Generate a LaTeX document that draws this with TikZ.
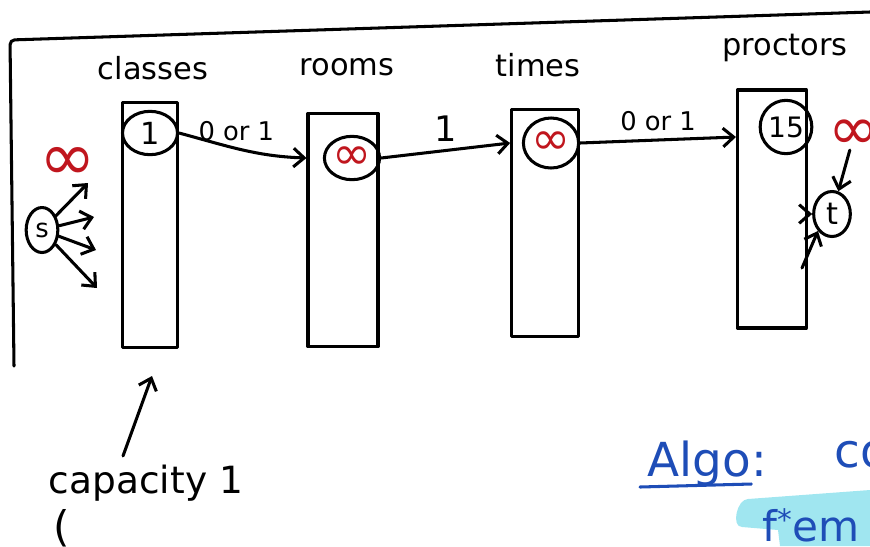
\documentclass[tikz,border=0pt]{standalone}
\usepackage{fontspec}
\setmainfont{DejaVu Sans}
\usepackage{xcolor}
\usepackage{tikz}
\usetikzlibrary{arrows.meta,shapes,calc}
\definecolor{inkred}{HTML}{C0161E}
\definecolor{inkblue}{HTML}{1E4DB7}
\definecolor{hilite}{HTML}{A0E6F0}

\begin{document}
\begin{tikzpicture}[x=0.03cm, y=-0.03cm,
    every node/.style={font=\fontsize{26}{28}\selectfont},
    ink/.style={line width=2.6pt, line cap=round, line join=round},
    col/.style={ink, draw, rectangle, inner sep=0pt},
    cnt/.style={ink, draw, ellipse, inner sep=0pt},
    arr/.style={ink, -{Straight Barb[length=3.2mm,width=5.6mm]}},
    lbl/.style={font=\fontsize{22}{24}\selectfont},
    inf/.style={text=inkred, font=\fontsize{40}{40}\selectfont},
    note/.style={text=inkblue, font=\fontsize{40}{42}\selectfont, inner sep=2pt}
]
  \useasboundingbox (0,0) rectangle (870,546);
  \clip (0,0) rectangle (870,546);

  \draw[ink, rounded corners=4pt] (14,366) -- (10,40) -- (870,12);

  \node[col, minimum width=1.65cm, minimum height=7.35cm] (classes)  at (150,225) {};
  \node[col, minimum width=2.1cm,  minimum height=7.0cm]  (rooms)    at (343,230) {};
  \node[col, minimum width=2.0cm,  minimum height=6.8cm]  (times)    at (545,223) {};
  \node[col, minimum width=2.07cm, minimum height=7.14cm] (proctors) at (772,209) {};

  \node at (153,68) {classes};
  \node at (347,67) {rooms};
  \node at (538,65) {times};
  \node at (785,48) {proctors};

  \node[cnt, minimum width=1.65cm, minimum height=1.3cm] (c1) at (150,133) {1};
  \node[cnt, minimum width=1.35cm, minimum height=1.3cm, inf] (r1) at (352,158) {∞};
  \node[cnt, minimum width=1.6cm,  minimum height=1.5cm, inf] (t1) at (551,143) {∞};
  \node[cnt, minimum width=1.55cm, minimum height=1.6cm, font=\fontsize{24}{26}\selectfont] (p1) at (786,127) {15};

  \node[cnt, minimum width=0.95cm, minimum height=1.35cm, font=\fontsize{22}{24}\selectfont] (s) at (42,230) {s};
  \node[cnt, minimum width=1.1cm,  minimum height=1.35cm] (t) at (832,214) {t};

  \node[inf, font=\fontsize{58}{58}\selectfont, inner sep=0pt] (sinf) at (68,164) {∞};
  \node[inf, font=\fontsize{52}{52}\selectfont, inner sep=0pt] (tinf) at (854,135) {∞};

  \foreach \n/\x/\y in {1/88/183, 2/94/217, 3/96/250, 4/97/288}{
    \coordinate (sa\n) at (\x,\y);
    \draw[arr] (s) -- (sa\n);
  }

  \draw[arr] (c1.east) to[out=-15,in=178] node[lbl, above=2pt, pos=0.45] {0 or 1} (rooms.west |- r1);
  \draw[arr] (r1.east) -- node[above=3pt, font=\fontsize{30}{30}\selectfont] {1} (times.west |- t1);
  \draw[arr] (t1.east) -- node[lbl, above=3pt] {0 or 1} ($(proctors.west |- p1)+(0,10)$);

  \coordinate (tb) at (802,268);
  \draw[arr] (proctors.east |- t) -- (t.west);
  \draw[arr] (tb) -- (t.south west);
  \draw[arr] (tinf) -- (t);

  \node[font=\fontsize{32}{34}\selectfont] (cap) at (146,483) {capacity 1};
  \coordinate (capTail) at (123,456);
  \coordinate (capTip) at (152,376);
  \draw[arr] (capTail) -- (capTip);
  \node[font=\fontsize{36}{38}\selectfont] (paren) at (62,528) {(};

  \fill[hilite] (870,490) -- (748,499) to[out=180,in=180] (742,527) -- (778,530) -- (780,546) -- (870,546) -- cycle;

  \node[note, anchor=base west] (algo) at (645,476) {Algo:};
  \draw[ink, inkblue] ($(algo.base west)+(-5,11)$) -- ($(algo.base east)+(-18,8)$);
  \node[note, anchor=base west] (co) at (832,467) {co};
  \node[note, anchor=base west, font=\fontsize{36}{38}\selectfont] (fem) at (760,541) {f\textsuperscript{*}em};
\end{tikzpicture}
\end{document}
